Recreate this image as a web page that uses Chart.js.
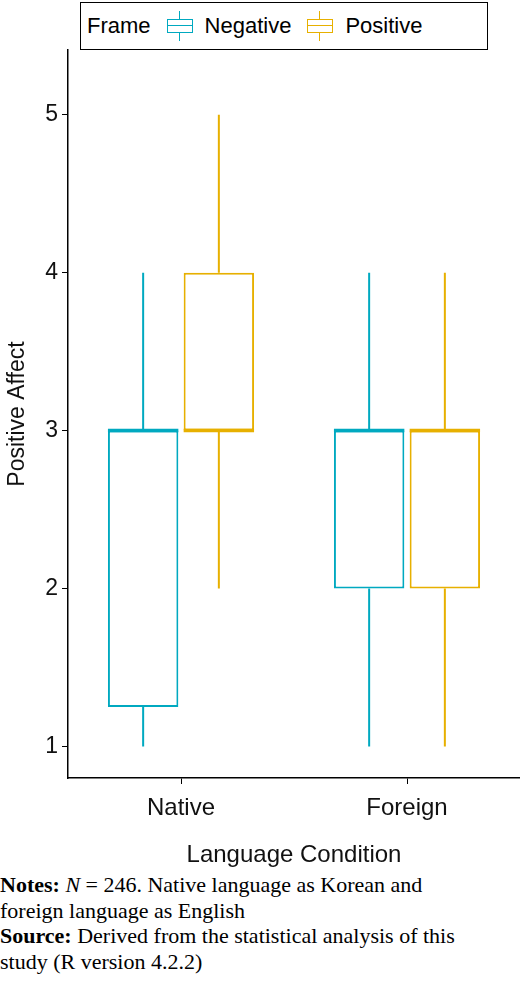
<!DOCTYPE html>
<html><head><meta charset="utf-8">
<script src="https://cdn.jsdelivr.net/npm/chart.js@4"></script>
<style>
body{margin:0;width:520px;height:996px;background:#fff;position:relative;overflow:hidden;font-family:"Liberation Sans",Arial,sans-serif}
#wrap{position:absolute;left:0;top:0;width:520px;height:870px}
#legend{position:absolute;left:80px;top:2px;width:408px;height:48px;border:1.5px solid #000;box-sizing:border-box;display:flex;align-items:center;font-size:22px;background:#fff;z-index:2}
.ic{position:relative;width:30px;height:30px;margin:0 10px 0 14px}
.ic .w{position:absolute;left:14px;top:0;width:0;height:30px;border-left:1.5px solid}
.ic .b{position:absolute;left:2px;top:8px;width:26px;height:14px;border:1.5px solid;box-sizing:border-box;background:#fff}
.ic .m{position:absolute;left:2px;top:14px;width:26px;height:0;border-top:1.5px solid}
#notes{position:absolute;left:0;top:872px;width:470px;font-family:"Liberation Serif","Times New Roman",serif;font-size:22px;line-height:25.5px;color:#000}
</style></head><body>
<div id="legend"><span style="margin-left:6px">Frame</span>
<div class="ic" style="color:#00a9c0"><div class="w"></div><div class="b"></div><div class="m"></div></div><span>Negative</span>
<div class="ic" style="color:#e7b000"><div class="w"></div><div class="b"></div><div class="m"></div></div><span>Positive</span></div>
<div id="wrap"><canvas id="c" width="520" height="870"></canvas></div>
<div id="notes"><b>Notes:</b> <i>N</i> = 246. Native language as Korean and foreign language as English<br><b>Source:</b> Derived from the statistical analysis of this study (R version 4.2.2)</div>
<script>
const categories=["Native","Foreign"];
const seriesNames=["Negative","Positive"];
const colors=["#00a9c0","#e7b000"];
const negMin=[1,1], negQ1=[1.25,2], negMed=[3,3], negQ3=[3,3], negMax=[4,4];
const posMin=[2,1], posQ1=[3,2], posMed=[3,3], posQ3=[4,3], posMax=[5,4];
const stats=[[negMin,negQ1,negMed,negQ3,negMax],[posMin,posQ1,posMed,posQ3,posMax]];
const yTicks=[1,2,3,4,5];
const whisk={id:'whisk',afterDatasetsDraw(ch){
 const ctx=ch.ctx,y=ch.scales.y;
 stats.forEach((s,di)=>{
  ch.getDatasetMeta(di).data.forEach((bar,i)=>{
   const x=bar.x,hw=bar.width/2;
   ctx.save();ctx.strokeStyle=colors[di];ctx.lineWidth=2;
   ctx.beginPath();ctx.moveTo(x,y.getPixelForValue(s[3][i]));ctx.lineTo(x,y.getPixelForValue(s[4][i]));
   ctx.moveTo(x,y.getPixelForValue(s[1][i]));ctx.lineTo(x,y.getPixelForValue(s[0][i]));ctx.stroke();
   ctx.lineWidth=3.5;ctx.beginPath();const ym=y.getPixelForValue(s[2][i]);
   ctx.moveTo(x-hw,ym);ctx.lineTo(x+hw,ym);ctx.stroke();ctx.restore();
  });
 });
}};
new Chart(document.getElementById('c'),{type:'bar',
 data:{labels:categories,datasets:stats.map((s,di)=>({label:seriesNames[di],
  data:categories.map((c,i)=>[s[1][i],s[3][i]]),backgroundColor:'#fff',borderColor:colors[di],borderWidth:2,borderSkipped:false,
  barPercentage:0.93,categoryPercentage:0.67}))},
 options:{responsive:false,animation:false,layout:{padding:{top:50,right:0,left:0}},
  plugins:{legend:{display:false},tooltip:{enabled:false}},
  scales:{
   x:{grid:{display:true,offset:false,drawOnChartArea:false,color:'#000',tickLength:6},border:{display:true,color:'#000',width:1.5},
      ticks:{color:'#111',font:{size:24,family:'Liberation Sans'},padding:10},
      title:{display:true,text:'Language Condition',color:'#111',font:{size:24,family:'Liberation Sans'},padding:{top:0,bottom:0}},
      afterFit:s=>{s.height=92;}},
   y:{min:0.8,max:5.41,grid:{display:true,drawOnChartArea:false,color:'#000',tickLength:6},border:{display:true,color:'#000',width:1.5},
      afterBuildTicks:s=>{s.ticks=yTicks.map(v=>({value:v}));},
      ticks:{color:'#111',font:{size:23,family:'Liberation Sans'},padding:4},
      title:{display:true,text:'Positive Affect',color:'#111',font:{size:23,family:'Liberation Sans'},padding:{bottom:4}},
      afterFit:s=>{s.width=68;}}
  }},plugins:[whisk]});
</script></body></html>
